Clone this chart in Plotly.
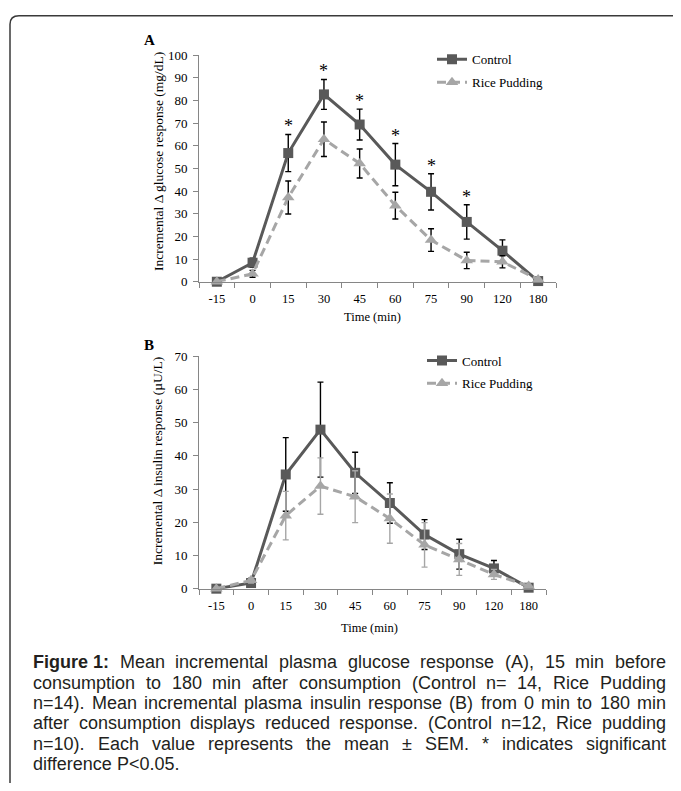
import plotly.graph_objects as go

# page body has an 8px margin: the figure is sized to fit inside it
PAGE_W, PAGE_H = 681, 791
OFF = 8
W, H = PAGE_W - 2 * OFF, PAGE_H - 2 * OFF

# ---------------- data ----------------
time_labels = ["-15", "0", "15", "30", "45", "60", "75", "90", "120", "180"]

glucose_control = [0, 8.4, 56.8, 82.7, 69.4, 51.7, 39.7, 26.4, 13.7, 0.3]
glucose_control_sem = [0, 2.0, 8.2, 6.6, 6.8, 9.3, 8.0, 7.6, 4.8, 0]
glucose_rice = [0, 3.5, 37.2, 62.9, 52.2, 33.6, 18.4, 9.4, 8.8, 1.0]
glucose_rice_sem = [0, 1.5, 7.3, 7.6, 6.4, 5.9, 5.0, 3.6, 2.7, 0]
glucose_significant = ["15", "30", "45", "60", "75", "90"]

insulin_control = [0, 1.7, 34.4, 47.9, 34.9, 25.8, 16.3, 10.4, 6.1, 0.3]
insulin_control_sem = [0, 0.5, 11.1, 14.3, 6.2, 6.1, 4.5, 4.5, 2.4, 0]
insulin_rice = [0, 2.5, 22.0, 30.9, 27.7, 21.1, 13.2, 8.8, 4.3, 0.8]
insulin_rice_sem = [0, 0.8, 7.3, 8.5, 7.8, 7.4, 6.7, 4.8, 1.5, 0]

caption_lines = [
    "<b>Figure 1:</b> Mean incremental plasma glucose response (A), 15 min before",
    "consumption to 180 min after consumption (Control n= 14, Rice Pudding",
    "n=14). Mean incremental plasma insulin response (B) from 0 min to 180 min",
    "after consumption displays reduced response. (Control n=12, Rice pudding",
    "n=10). Each value represents the mean ± SEM. * indicates significant",
    "difference P&lt;0.05.",
]

# ---------------- styles ----------------
SERIF = "Liberation Serif"
SANS = "Liberation Sans"
CTRL_COLOR = "#595959"
RICE_COLOR = "#a6a6a6"
AXIS_COLOR = "#868686"


def px(x):
    return (x - OFF) / W


def py(y):
    return 1 - (y - OFF) / H


fig = go.Figure()


def add_panel(xa, ya, legend, ctrl, ctrl_err, rice, rice_err, rice_err_color):
    fig.add_trace(go.Scatter(
        x=time_labels, y=ctrl, name="Control", mode="lines+markers",
        xaxis=xa, yaxis=ya, legend=legend, legendgroup=legend + "c",
        cliponaxis=False,
        line=dict(color=CTRL_COLOR, width=3),
        marker=dict(symbol="square", size=10, color=CTRL_COLOR),
        error_y=dict(type="data", array=ctrl_err, visible=True,
                     color="#000000", thickness=1.4, width=3),
    ))
    fig.add_trace(go.Scatter(
        x=time_labels, y=rice, name="Rice Pudding", mode="lines+markers",
        xaxis=xa, yaxis=ya, legend=legend, legendgroup=legend + "r",
        cliponaxis=False,
        line=dict(color=RICE_COLOR, width=3, dash="9px,5px"),
        marker=dict(symbol="triangle-up", size=11, color=RICE_COLOR),
        error_y=dict(type="data", array=rice_err, visible=True,
                     color=rice_err_color, thickness=1.4, width=3),
    ))


add_panel("x", "y", "legend", glucose_control, glucose_control_sem,
          glucose_rice, glucose_rice_sem, "#000000")
add_panel("x2", "y2", "legend2", insulin_control, insulin_control_sem,
          insulin_rice, insulin_rice_sem, RICE_COLOR)


def xaxis_cfg(left, right, anchor):
    return dict(
        domain=[px(left), px(right)], type="category", anchor=anchor,
        categoryorder="array", categoryarray=time_labels,
        range=[-0.5, len(time_labels) - 0.5],
        showline=True, linecolor=AXIS_COLOR, linewidth=1,
        ticks="outside", tickson="boundaries", ticklen=5, tickcolor=AXIS_COLOR,
        showgrid=False, zeroline=False, ticklabelstandoff=5,
        tickfont=dict(family=SERIF, size=12.5, color="#000000"),
    )


def yaxis_cfg(top, bottom, ymax, anchor):
    return dict(
        domain=[py(bottom), py(top)], range=[0, ymax], dtick=10,
        showline=True, linecolor=AXIS_COLOR, linewidth=1,
        ticks="outside", ticklen=5, tickcolor=AXIS_COLOR,
        showgrid=False, zeroline=False, anchor=anchor, ticklabelstandoff=3,
        tickfont=dict(family=SERIF, size=13, color="#000000"),
    )


annotations = []

# panel letters
for letter, (lx, ly) in {"A": (149, 34), "B": (149, 345)}.items():
    annotations.append(dict(text="<b>%s</b>" % letter, x=px(lx), y=py(ly),
                            xref="paper", yref="paper", showarrow=False,
                            xanchor="center", yanchor="middle",
                            font=dict(family=SERIF, size=15, color="#000000")))

# axis titles
for text, (tx, ty) in [("Incremental Δ glucose response (mg/dL)", (158, 158)),
                       ("Incremental Δ insulin response (µU/L)", (157, 463))]:
    annotations.append(dict(text=text, x=px(tx), y=py(ty), xref="paper",
                            yref="paper", showarrow=False, textangle=-90,
                            xanchor="center", yanchor="middle",
                            font=dict(family=SERIF, size=13.5, color="#000000")))
for tx, ty in [(372, 316), (369, 633)]:
    annotations.append(dict(text="Time (min)", x=px(tx), y=py(ty), xref="paper",
                            yref="paper", showarrow=False,
                            xanchor="center", yanchor="middle",
                            font=dict(family=SERIF, size=12.5, color="#000000")))

# significance asterisks (category axes take the category index)
for lab in glucose_significant:
    i = time_labels.index(lab)
    annotations.append(dict(text="*", x=i, y=glucose_control[i] + glucose_control_sem[i],
                            xref="x", yref="y", showarrow=False, yanchor="bottom",
                            yshift=-4,
                            font=dict(family=SERIF, size=18, color="#000000")))

# caption: justified lines using Arial (Liberation Sans) metrics
ARIAL = {
    " ": 278, "!": 278, "(": 333, ")": 333, "*": 389, "+": 584, ",": 278,
    "-": 333, ".": 278, "/": 278, ":": 278, "<": 584, "=": 584, ">": 584,
    "±": 584,
    "A": 667, "B": 667, "C": 722, "D": 722, "E": 667, "F": 611, "G": 778,
    "H": 722, "I": 278, "J": 500, "K": 667, "L": 556, "M": 833, "N": 722,
    "O": 778, "P": 667, "Q": 778, "R": 722, "S": 667, "T": 611, "U": 722,
    "V": 667, "W": 944, "X": 667, "Y": 667, "Z": 611,
    "a": 556, "b": 556, "c": 500, "d": 556, "e": 556, "f": 278, "g": 556,
    "h": 556, "i": 222, "j": 222, "k": 500, "l": 222, "m": 833, "n": 556,
    "o": 556, "p": 556, "q": 556, "r": 333, "s": 500, "t": 278, "u": 556,
    "v": 500, "w": 722, "x": 500, "y": 500, "z": 500,
}
ARIAL_BOLD = {"F": 611, "i": 278, "g": 611, "u": 611, "r": 389, "e": 556,
              "1": 556, ":": 333, " ": 278}
for d in "0123456789":
    ARIAL[d] = 556

CAP_SIZE = 18
CAP_LEFT, CAP_RIGHT = 32, 665
CAP_Y0, CAP_DY = 668, 20.8


def word_width(word):
    bold = word.startswith("<b>")
    plain = word.replace("<b>", "").replace("</b>", "").replace("&lt;", "<")
    table = ARIAL_BOLD if bold else ARIAL
    return sum(table.get(c, ARIAL.get(c, 556)) for c in plain) * CAP_SIZE / 1000.0


for li, line in enumerate(caption_lines):
    yline = CAP_Y0 + li * CAP_DY
    tokens = line.replace("<b>Figure 1:</b>", "<b>Figure_1:</b>").split(" ")
    tokens = [t.replace("_", " ") for t in tokens]
    widths = [word_width(t) for t in tokens]
    space = ARIAL[" "] * CAP_SIZE / 1000.0
    last = li == len(caption_lines) - 1
    if last or len(tokens) == 1:
        gap = space
    else:
        gap = (CAP_RIGHT - CAP_LEFT - sum(widths)) / (len(tokens) - 1)
    xcur = CAP_LEFT
    for tok, w in zip(tokens, widths):
        annotations.append(dict(text=tok, x=px(xcur), y=py(yline), xref="paper",
                                yref="paper", xanchor="left", yanchor="middle",
                                showarrow=False, borderpad=0,
                                font=dict(family=SANS, size=CAP_SIZE, color="#231f20")))
        xcur += w + gap

legend_common = dict(
    xanchor="left", yanchor="top", bgcolor="rgba(0,0,0,0)",
    font=dict(family=SERIF, size=13, color="#000000"),
    tracegroupgap=3, itemwidth=30,
)

frame_path = "M %f,%f L %f,%f Q %f,%f %f,%f L %f,%f" % (
    px(10), py(820), px(10), py(17.5), px(10), py(8.8), px(19), py(8.8),
    px(720), py(8.8))

fig.update_layout(
    width=W, height=H,
    margin=dict(l=0, r=0, t=0, b=0),
    paper_bgcolor="#ffffff", plot_bgcolor="#ffffff",
    xaxis=xaxis_cfg(199, 556, "y"),
    yaxis=yaxis_cfg(49, 280, 100, "x"),
    xaxis2=xaxis_cfg(199, 546, "y2"),
    yaxis2=yaxis_cfg(356, 593, 70, "x2"),
    legend=dict(x=px(432), y=py(38), **legend_common),
    legend2=dict(x=px(422), y=py(345), **legend_common),
    annotations=annotations,
    shapes=[dict(type="path", path=frame_path, xref="paper", yref="paper",
                 line=dict(color="#3a3a3a", width=1.5))],
    showlegend=True,
)

fig.write_html("out.html")
